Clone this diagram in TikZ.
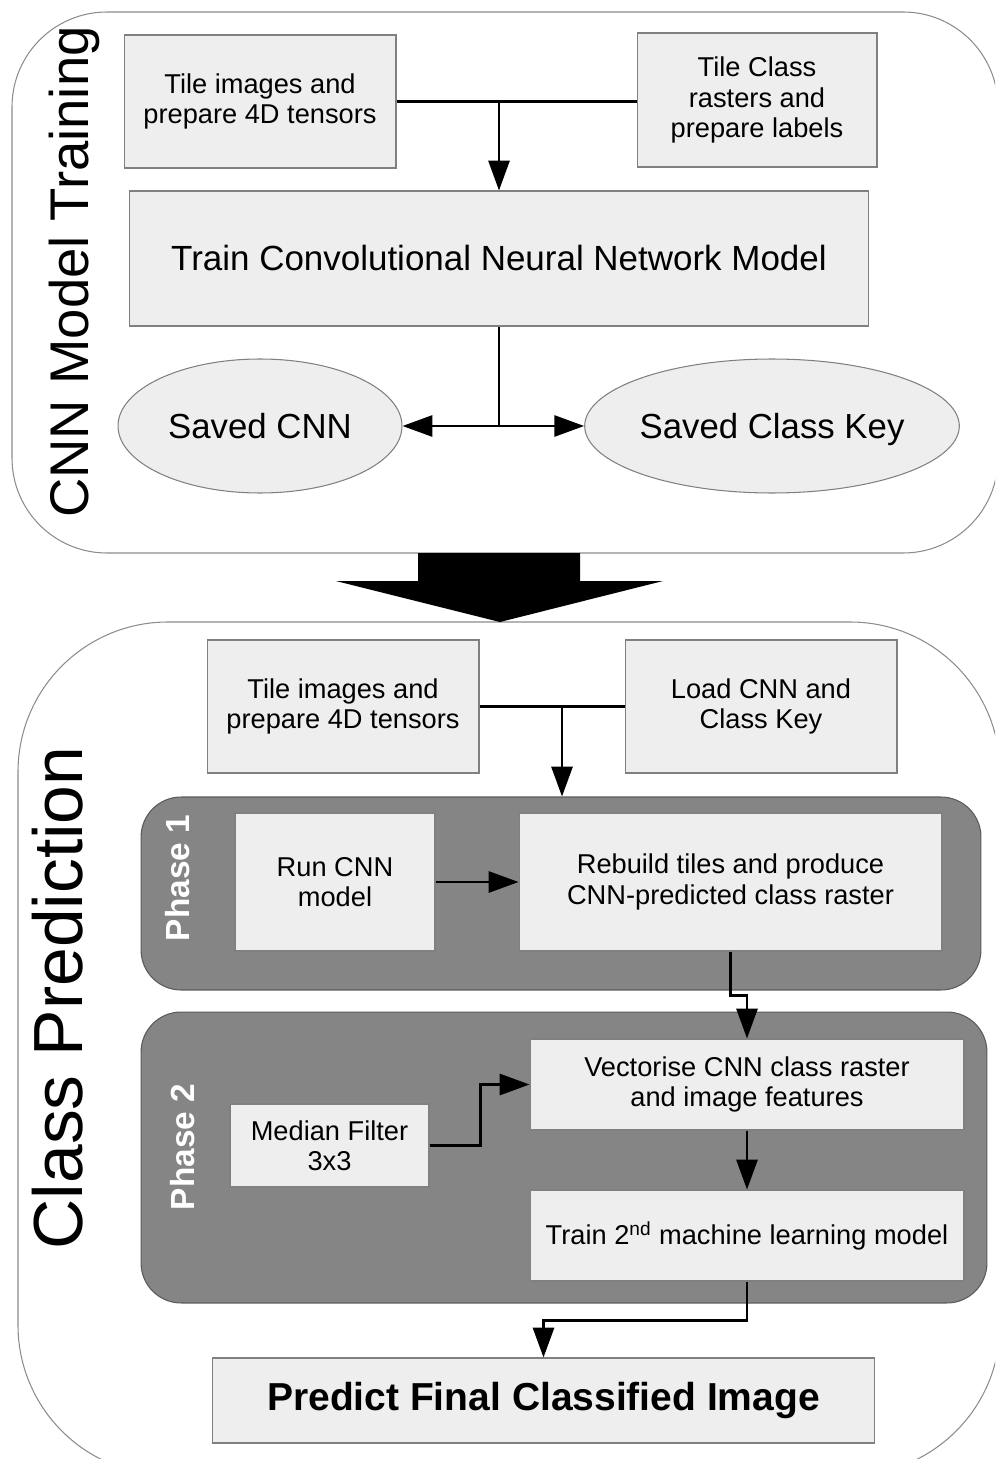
\documentclass[tikz,border=0pt]{standalone}
\usepackage{fontspec}
\setmainfont{Liberation Sans}
\usetikzlibrary{positioning,shapes.geometric,arrows.meta,calc}

\definecolor{boxfill}{HTML}{EEEEEE}
\definecolor{boxline}{HTML}{808080}
\definecolor{phasefill}{HTML}{858585}
\definecolor{phaseline}{HTML}{5A5A5A}
\definecolor{frameline}{HTML}{8C8C8C}

\tikzset{
  procbox/.style={draw=boxline, fill=boxfill, line width=0.6pt, inner sep=0pt, align=center, font=\fontsize{15.5}{17.2}\selectfont},
  savedell/.style={ellipse, draw=boxline, fill=boxfill, line width=0.6pt, inner sep=0pt, text depth=0pt, font=\fontsize{19.8}{22}\selectfont},
  phasebox/.style={draw=phaseline, fill=phasefill, line width=0.6pt, rounded corners=0.8cm, inner sep=0pt},
  phaselabel/.style={rotate=90, text=white, inner sep=0pt, font=\bfseries\fontsize{19}{21}\selectfont},
  sidelabel/.style={rotate=90, inner sep=0pt},
  flow/.style={line width=1.5pt},
  flowarrow/.style={line width=1.5pt, -{Triangle[length=17pt,width=12pt]}},
}

\begin{document}
\begin{tikzpicture}[x=0.02cm, y=-0.02cm]
\path[use as bounding box] (0,0) rectangle (995,1459);
\clip (0,0) rectangle (995,1459);

% outer frames
\draw[frameline, line width=0.6pt, rounded corners=1.9cm] (12,12) rectangle (998,553);
\draw[frameline, line width=0.6pt, rounded corners=3cm] (18,622) rectangle (1000,1475);

% block arrow between the stages
\fill[black] (418,553) -- (580,553) -- (580,581) -- (663,581) -- (500,622) -- (336,581) -- (418,581) -- cycle;

\node[sidelabel, font=\fontsize{31}{33}\selectfont] (traininglabel) at (74,272) {CNN Model Training};
\node[sidelabel, font=\fontsize{39.6}{42}\selectfont] (predictlabel) at (58,998) {Class Prediction};

% CNN model training
\node[procbox, minimum width=5.44cm, minimum height=2.66cm] (tileimg) at (260,101.5) {Tile images and\\prepare 4D tensors};
\node[procbox, minimum width=4.8cm, minimum height=2.68cm] (tileclass) at (757,100) {Tile Class\\rasters and\\prepare labels};
\node[procbox, minimum width=14.8cm, minimum height=2.7cm, font=\fontsize{19.9}{22}\selectfont] (traincnn) at (499,258.5) {Train Convolutional Neural Network Model};
\node[savedell, minimum width=5.68cm, minimum height=2.68cm] (savedcnn) at (260,426) {Saved CNN};
\node[savedell, minimum width=7.44cm, minimum height=2.68cm] (savedkey) at (772,426) {Saved Class Key};

\coordinate (joinA) at (tileimg.east -| traincnn.north);
\draw[flow] (tileimg.east) -- (joinA) -- (joinA -| tileclass.west);
\draw[flowarrow] (joinA) -- (traincnn.north);
\coordinate (splitA) at (traincnn.south |- savedcnn.east);
\draw[flow] (traincnn.south) -- (splitA);
\draw[flowarrow] (splitA) -- (savedcnn.east);
\draw[flowarrow] (splitA) -- (savedkey.west);

% class prediction
\node[procbox, minimum width=5.44cm, minimum height=2.66cm] (tileimgB) at (343,706.5) {Tile images and\\prepare 4D tensors};
\node[procbox, minimum width=5.44cm, minimum height=2.66cm] (loadcnn) at (761,706.5) {Load CNN and\\Class Key};

\node[phasebox, minimum width=16.8cm, minimum height=3.86cm] (phaseone) at (561,893.5) {};
\node[phaselabel] (phaseonelabel) at (178,878) {Phase 1};
\node[procbox, minimum width=4cm, minimum height=2.76cm] (runcnn) at (335,882) {Run CNN\\model};
\node[procbox, minimum width=8.46cm, minimum height=2.76cm] (rebuild) at (730.5,882) {Rebuild tiles and produce\\CNN-predicted class raster};

\node[phasebox, minimum width=16.92cm, minimum height=5.82cm] (phasetwo) at (564,1157.5) {};
\node[phaselabel] (phasetwolabel) at (183,1147) {Phase 2};
\node[procbox, minimum width=3.98cm, minimum height=1.66cm] (median) at (329.5,1145.5) {Median Filter\\3x3};
\node[procbox, minimum width=8.68cm, minimum height=1.82cm] (vectorise) at (747,1084.5) {Vectorise CNN class raster\\and image features};
\node[procbox, minimum width=8.68cm, minimum height=1.82cm] (trainml) at (747,1235.5) {Train 2\textsuperscript{nd} machine learning model};

\node[procbox, minimum width=13.26cm, minimum height=1.7cm, font=\bfseries\fontsize{22.2}{24}\selectfont] (final) at (543.5,1400.5) {Predict Final Classified Image};

\coordinate (joinB) at (562,706.5);
\draw[flow] (tileimgB.east) -- (loadcnn.west);
\draw[flowarrow] (joinB) -- (joinB |- phaseone.north);
\draw[flowarrow] (runcnn.east) -- (rebuild.west);
\draw[flowarrow] (rebuild.south) -- ++(0,44) -| (vectorise.north);
\draw[flowarrow] (median.east) -- ++(51,0) |- (vectorise.west);
\draw[flowarrow] (vectorise.south) -- (trainml.north);
\draw[flowarrow] (trainml.south) -- ++(0,39) -| (final.north);

\end{tikzpicture}
\end{document}
